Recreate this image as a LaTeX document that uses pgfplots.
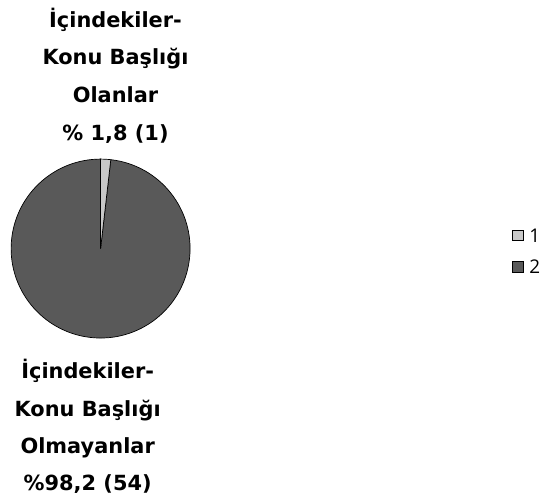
\documentclass[border=0pt]{standalone}
\usepackage{pgfplots}
\pgfplotsset{compat=1.18}
\usepackage{pgfplotstable}
\usepackage{fontspec}
\setmainfont{DejaVu Sans}
\newfontfamily\legfont{Open Sans}

\definecolor{sliceA}{HTML}{C8C8C8}
\definecolor{sliceB}{HTML}{595959}

% part, count (1 = with contents/headings, 2 = without)
\pgfplotstableread{
part count
1 1
2 54
}\piedata

\begin{document}
\pgfplotstablegetelem{0}{count}\of\piedata \let\ca\pgfplotsretval
\pgfplotstablegetelem{1}{count}\of\piedata \let\cb\pgfplotsretval
\pgfmathsetmacro\angA{90-360*\ca/(\ca+\cb)}
\begin{tikzpicture}
\begin{axis}[
    width=547pt, height=500pt, scale only axis,
    xmin=0, xmax=547, ymin=0, ymax=500,
    axis lines=none, clip=false,
]
\path (axis cs:0,0) rectangle (axis cs:547,500);
\fill[sliceB, draw=black, line width=0.7pt] (axis cs:98,250) -- ++(\angA:90pt)
    arc[start angle=\angA, end angle=-270, radius=90pt] -- cycle;
\fill[sliceA, draw=black, line width=0.7pt] (axis cs:98,250) -- ++(90:90pt)
    arc[start angle=90, end angle=\angA, radius=90pt] -- cycle;

% legend
\draw[fill=sliceA, line width=0.6pt] (axis cs:512,258) rectangle (axis cs:523,268);
\draw[fill=sliceB, line width=0.6pt] (axis cs:512,226) rectangle (axis cs:523,237);
\node[anchor=west, inner sep=0pt, font=\legfont\fontsize{19}{22}\selectfont]
    at (axis cs:529,263) {1};
\node[anchor=west, inner sep=0pt, font=\legfont\fontsize{19}{22}\selectfont]
    at (axis cs:529,232) {2};

\node[align=center, font=\bfseries\fontsize{21}{38}\selectfont]
    at (axis cs:113,424) {İçindekiler-\\Konu Başlığı\\Olanlar\\\% 1,8 (1)};
\node[align=center, font=\bfseries\fontsize{21}{37.5}\selectfont]
    at (axis cs:85,71) {İçindekiler-\\Konu Başlığı\\Olmayanlar\\\%98,2 (54)};
\end{axis}
\end{tikzpicture}
\end{document}
